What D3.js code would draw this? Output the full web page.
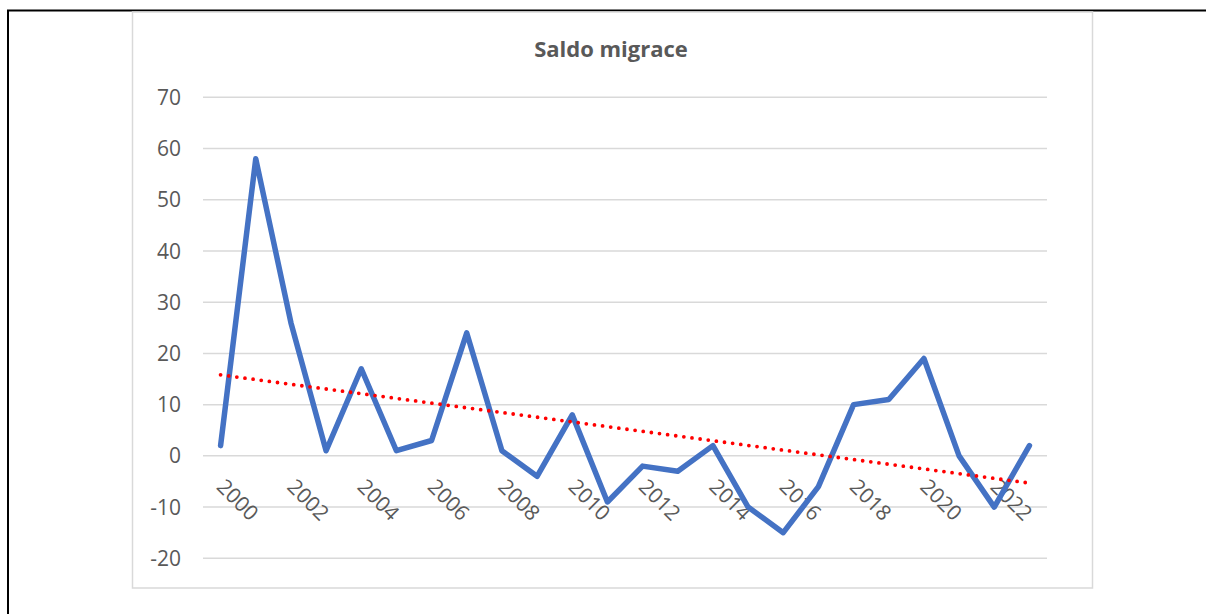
<!DOCTYPE html>
<html>
<head>
<meta charset="utf-8">
<script src="https://cdn.jsdelivr.net/npm/d3@7"></script>
<style>
  body { margin: 0; background: #fff; }
  text { font-family: "Open Sans", sans-serif; }
</style>
</head>
<body>
<div id="graph"></div>
<script>
// data
let years = d3.range(2000, 2024);
let saldo = [2, 58, 26, 1, 17, 1, 3, 24, 1, -4, 8, -9, -2, -3, 2, -10, -15, -6, 10, 11, 19, 0, -10, 2];
let yTicks = [-20, -10, 0, 10, 20, 30, 40, 50, 60, 70];
let xLabels = [2000, 2002, 2004, 2006, 2008, 2010, 2012, 2014, 2016, 2018, 2020, 2022];
let chartTitle = "Saldo migrace";

let width = 1206, height = 614;

let svg = d3.select("#graph")
    .append("svg")
    .attr("width", width)
    .attr("height", height);

// page border (table cell lines)
svg.append("line")
    .attr("x1", 7).attr("x2", width)
    .attr("y1", 10.5).attr("y2", 10.5)
    .style("stroke", "#000").style("stroke-width", 2);
svg.append("line")
    .attr("x1", 8).attr("x2", 8)
    .attr("y1", 10).attr("y2", height)
    .style("stroke", "#000").style("stroke-width", 2);

// chart area frame
svg.append("rect")
    .attr("x", 132.5).attr("y", 12)
    .attr("width", 960).attr("height", 576)
    .style("fill", "none")
    .style("stroke", "#d9d9d9")
    .style("stroke-width", 1.5);

let x = d3.scaleBand()
    .domain(years)
    .range([203, 1047]);

let y = d3.scaleLinear()
    .domain([-20, 70])
    .range([558.3, 97.3]);

let cx = function(d) { return x(d) + x.bandwidth() / 2; };

// gridlines
svg.append("g")
    .selectAll("line")
    .data(yTicks)
    .enter()
    .append("line")
    .attr("x1", 203).attr("x2", 1047)
    .attr("y1", function(d) { return y(d); })
    .attr("y2", function(d) { return y(d); })
    .style("stroke", "#d9d9d9")
    .style("stroke-width", 1.5);

// y labels
svg.append("g")
    .selectAll("text")
    .data(yTicks)
    .enter()
    .append("text")
    .attr("x", 181)
    .attr("y", function(d) { return y(d); })
    .attr("dy", "0.36em")
    .style("text-anchor", "end")
    .style("font-size", "21px")
    .style("fill", "#595959")
    .text(function(d) { return d; });

// x labels, rotated
svg.append("g")
    .selectAll("text")
    .data(xLabels)
    .enter()
    .append("text")
    .attr("transform", function(d) { return `translate(${cx(d) - 5}, 488) rotate(45)`; })
    .style("text-anchor", "start")
    .style("font-size", "21px")
    .style("fill", "#595959")
    .text(function(d) { return d; });

// main line
let line = d3.line()
    .x(function(d, i) { return cx(years[i]); })
    .y(function(d) { return y(d); });

svg.append("path")
    .datum(saldo)
    .attr("d", line)
    .style("fill", "none")
    .style("stroke", "#4472c4")
    .style("stroke-width", 5.5)
    .style("stroke-linejoin", "round")
    .style("stroke-linecap", "round");

// linear trendline (least squares over the series)
let n = saldo.length;
let mx = d3.mean(saldo, function(d, i) { return i; });
let my = d3.mean(saldo);
let sxy = d3.sum(saldo, function(d, i) { return (i - mx) * (d - my); });
let sxx = d3.sum(saldo, function(d, i) { return (i - mx) * (i - mx); });
let slope = sxy / sxx;
let trend = [0, n - 1].map(function(i) { return [i, my + slope * (i - mx)]; });

svg.append("path")
    .datum(trend)
    .attr("d", d3.line()
        .x(function(d) { return cx(years[d[0]]); })
        .y(function(d) { return y(d[1]); }))
    .style("fill", "none")
    .style("stroke", "#ff0000")
    .style("stroke-width", 3.8)
    .style("stroke-linecap", "round")
    .style("stroke-dasharray", "0 8.2");

// title
svg.append("text")
    .attr("x", 611)
    .attr("y", 57)
    .style("text-anchor", "middle")
    .style("font-size", "22px")
    .style("font-weight", 700)
    .style("fill", "#595959")
    .text(chartTitle);
</script>
</body>
</html>
